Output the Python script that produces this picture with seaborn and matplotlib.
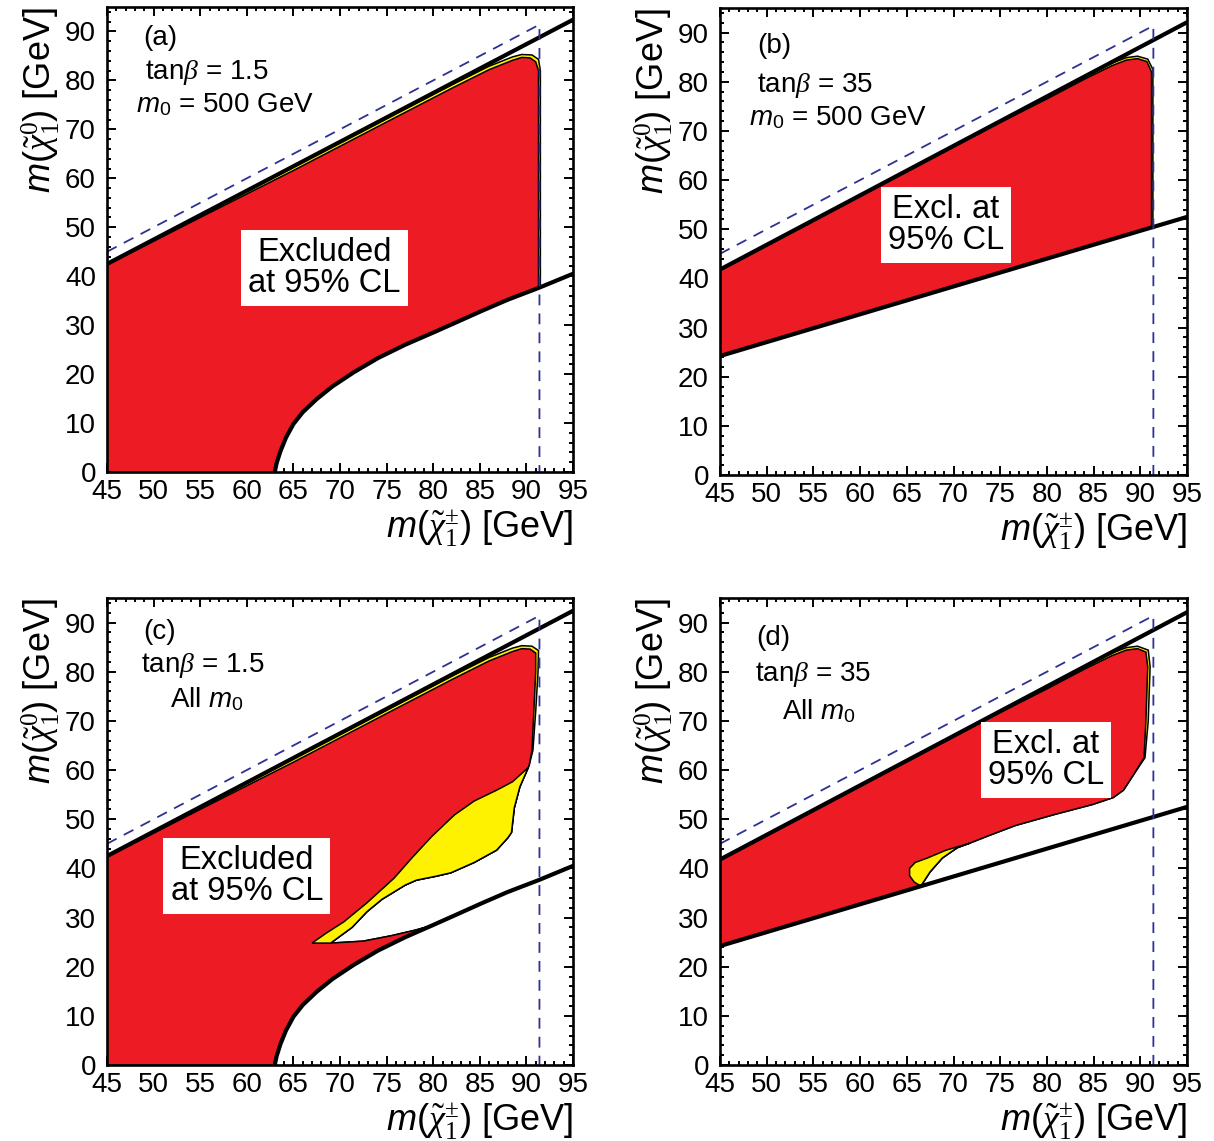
import matplotlib
matplotlib.use("Agg")
import matplotlib.pyplot as plt
import seaborn as sns
import numpy as np
import pandas as pd
from matplotlib.ticker import MultipleLocator

# ---------------- data ----------------
line_x = [45, 95]
upper_tb15 = [42.5, 92.4]      # kinematic limit, tan(beta)=1.5
upper_tb35 = [41.8, 92.1]      # kinematic limit, tan(beta)=35
lower_tb35 = [24.2, 52.5]      # lower boundary, tan(beta)=35

lower_tb15_x = [63.0, 63.2, 63.6, 64.2, 65.0, 66.0, 67.5, 69.2, 71.5, 74.1, 77.0, 79.9, 82.5, 85.2, 88.0, 91.3, 95.0]
lower_tb15_y = [0.0, 1.8, 4.2, 7.0, 9.8, 12.2, 14.9, 17.5, 20.4, 23.3, 26.0, 28.4, 30.6, 32.9, 35.2, 37.6, 40.5]

dashed_x = [45, 91.4, 91.4]
dashed_y = [45, 91.4, 0]

# panel (a): tan(beta)=1.5, m0=500
a_red_top_x = [45, 55, 65, 75, 82, 86, 88.5, 89.5, 90.4, 91.0, 91.3, 91.3]
a_red_top_y = [42.3, 52.0, 61.6, 71.5, 78.4, 82.2, 84.1, 84.7, 84.6, 83.8, 82.0, 37.6]
a_yel_top_x = [45, 55, 65, 75, 82, 86, 88.5, 89.5, 90.6, 91.3, 91.5, 91.5]
a_yel_top_y = [42.5, 52.4, 62.3, 72.2, 79.1, 82.9, 84.8, 85.3, 85.2, 84.3, 82.0, 37.7]

# panel (b): tan(beta)=35, m0=500
b_red_top_x = [45, 55, 65, 75, 80, 84, 87, 88.5, 89.7, 90.7, 91.2, 91.2]
b_red_top_y = [41.6, 51.6, 61.7, 71.7, 76.5, 80.5, 83.3, 84.4, 84.7, 84.1, 82.0, 50.3]
b_yel_top_x = [45, 55, 65, 75, 80, 84, 87, 88.5, 89.7, 90.8, 91.35, 91.35]
b_yel_top_y = [41.6, 51.6, 61.7, 71.8, 76.9, 80.9, 83.8, 84.9, 85.2, 84.6, 82.5, 50.4]

# panel (c): tan(beta)=1.5, all m0
c_red_top_x = [45, 55, 65, 75, 82, 86, 88.5, 89.5, 90.4, 91.0, 91.0, 90.8, 90.6, 90.3]
c_red_top_y = [42.3, 52.0, 61.6, 71.5, 78.4, 82.2, 84.1, 84.7, 84.6, 83.8, 80.0, 72.0, 64.0, 61.0]
c_yel_top_x = [45, 55, 65, 75, 82, 86, 88.5, 89.5, 90.6, 91.3, 91.25, 91.0, 90.7, 90.3]
c_yel_top_y = [42.5, 52.4, 62.3, 72.2, 79.1, 82.9, 84.8, 85.3, 85.2, 84.3, 80.0, 72.0, 64.0, 61.0]
c_isl_up_x = [67.0, 68.5, 70.4, 72.9, 75.8, 77.8, 79.9, 82.3, 84.4, 86.8, 88.5, 90.2]
c_isl_up_y = [24.8, 26.8, 29.1, 33.0, 38.0, 42.3, 46.6, 50.9, 53.7, 55.9, 57.6, 60.5]
c_isl_lo_x = [90.2, 89.3, 88.7, 88.4, 88.0, 86.8, 84.4, 81.9, 80.3, 78.2, 77.0, 74.5, 72.9, 71.3, 70.0, 69.0]
c_isl_lo_y = [60.5, 56.6, 52.3, 47.3, 46.2, 43.7, 41.2, 39.1, 38.4, 37.6, 36.6, 33.7, 31.2, 28.0, 26.2, 24.8]
c_hole_x = [69.0, 72.5, 75.5, 78.0, 79.9]
c_hole_y = [24.8, 25.2, 26.3, 27.4, 28.4]

# panel (d): tan(beta)=35, all m0
d_red_top_x = [45, 55, 65, 75, 80, 84, 87, 88.5, 89.7, 90.6, 90.8, 90.6, 90.4]
d_red_top_y = [41.6, 51.6, 61.7, 71.7, 76.5, 80.5, 83.3, 84.4, 84.7, 84.0, 81.0, 70.0, 62.5]
d_yel_top_x = [45, 55, 65, 72, 80, 84, 87, 88.5, 89.7, 90.85, 91.05, 90.85, 90.5]
d_yel_top_y = [41.6, 51.6, 61.7, 68.8, 76.9, 80.9, 83.8, 84.9, 85.2, 84.4, 81.0, 70.0, 62.5]
d_edge_x = [89.4, 88.2, 87.1, 84.9, 80.7, 76.6, 73.7, 71.7]
d_edge_y = [59.4, 55.9, 54.4, 53.0, 50.9, 48.7, 46.6, 45.1]
d_isl_up_x = [65.3, 65.9, 67.2, 69.2, 71.7]
d_isl_up_y = [40.0, 41.2, 42.1, 43.7, 45.1]
d_isl_lo_x = [71.7, 70.4, 68.8, 67.5, 66.5]
d_isl_lo_y = [45.1, 44.2, 42.1, 39.3, 36.4]
d_isl_tip_x = [66.5, 65.8, 65.3]
d_isl_tip_y = [36.4, 37.2, 38.5]

panel_tags = ["(a)", "(b)", "(c)", "(d)"]
tanb_text = [r"tan$\beta$ = 1.5", r"tan$\beta$ = 35", r"tan$\beta$ = 1.5", r"tan$\beta$ = 35"]
m0_text = [r"$\mathsf{m}_{\mathtt{0}}$ = 500 GeV", r"$\mathsf{m}_{\mathtt{0}}$ = 500 GeV",
           r"All $\mathsf{m}_{\mathtt{0}}$", r"All $\mathsf{m}_{\mathtt{0}}$"]
box_text = ["Excluded\nat 95% CL", "Excl. at\n95% CL", "Excluded\nat 95% CL", "Excl. at\n95% CL"]

xlabel = r"$\mathsf{m}\mathtt{(}\tilde{\chi}^{\pm}_{1}\mathtt{)}$ [GeV]"
ylabel = r"$\mathsf{m}\mathtt{(}\tilde{\chi}^{0}_{1}\mathtt{)}$ [GeV]"

# ---------------- style ----------------
sns.set_theme(style="ticks")
plt.rcParams["font.family"] = ["Liberation Sans", "DejaVu Sans"]
plt.rcParams["mathtext.fontset"] = "custom"
plt.rcParams["mathtext.rm"] = "Liberation Serif"
plt.rcParams["mathtext.it"] = "Liberation Serif:italic"
plt.rcParams["mathtext.bf"] = "Liberation Serif:bold"
plt.rcParams["mathtext.sf"] = "Liberation Sans:italic"
plt.rcParams["mathtext.tt"] = "Liberation Sans"
for k in ["text.color", "axes.labelcolor", "xtick.color", "ytick.color", "axes.edgecolor"]:
    plt.rcParams[k] = "black"

RED = "#ED1C24"
YEL = "#FFF200"
BLUE = "#2E3192"

fig = plt.figure(figsize=(12.14, 11.41), dpi=100)
positions = [
    [107 / 1214, 1 - 472 / 1141, 466 / 1214, 465 / 1141],
    [720 / 1214, 1 - 475 / 1141, 467 / 1214, 467 / 1141],
    [107 / 1214, 1 - 1065 / 1141, 466 / 1214, 467 / 1141],
    [720 / 1214, 1 - 1065 / 1141, 467 / 1214, 467 / 1141],
]
axes = [fig.add_axes(p) for p in positions]


def lower15_upto(xmax):
    xs = [x for x in lower_tb15_x if x <= xmax + 1e-9]
    ys = [y for x, y in zip(lower_tb15_x, lower_tb15_y) if x <= xmax + 1e-9]
    return xs, ys


def draw_line(ax, x, y, lw=3.0, color="black", ls="-", z=4):
    df = pd.DataFrame({"x": x, "y": y})
    sns.lineplot(data=df, x="x", y="y", ax=ax, sort=False, estimator=None,
                 color=color, lw=lw, ls=ls, zorder=z, legend=False)


def fill(ax, x, y, color, z):
    ax.fill(x, y, facecolor=color, edgecolor="black", lw=1.1, zorder=z)


# ---- lower paths ----
lx, ly = lower15_upto(91.3)
a_lower_x = lx[::-1] + [45]
a_lower_y = ly[::-1] + [0]

b_lower_x = [45]
b_lower_y = [lower_tb35[0]]

lx, ly = lower15_upto(79.9)
c_lower_x = c_isl_lo_x + c_hole_x[1:] + lx[::-1][1:] + [45]
c_lower_y = c_isl_lo_y + c_hole_y[1:] + ly[::-1][1:] + [0]

d_lower_x = d_edge_x + d_isl_lo_x[1:] + [45]
d_lower_y = d_edge_y + d_isl_lo_y[1:] + [lower_tb35[0]]

panels = [
    dict(red=(a_red_top_x, a_red_top_y), yel=(a_yel_top_x, a_yel_top_y), low=(a_lower_x, a_lower_y), tb=15),
    dict(red=(b_red_top_x, b_red_top_y), yel=(b_yel_top_x, b_yel_top_y), low=(b_lower_x, b_lower_y), tb=35),
    dict(red=(c_red_top_x, c_red_top_y), yel=(c_yel_top_x, c_yel_top_y), low=(c_lower_x, c_lower_y), tb=15),
    dict(red=(d_red_top_x, d_red_top_y), yel=(d_yel_top_x, d_yel_top_y), low=(d_lower_x, d_lower_y), tb=35),
]

text_pos = [
    [(0.077, 0.933), (0.082, 0.860), (0.062, 0.789)],
    [(0.079, 0.919), (0.079, 0.835), (0.062, 0.766)],
    [(0.077, 0.927), (0.073, 0.856), (0.135, 0.783)],
    [(0.077, 0.914), (0.075, 0.837), (0.133, 0.758)],
]
box_pos = [(0.466, 0.439), (0.484, 0.535), (0.300, 0.405), (0.698, 0.653)]

for i, (ax, p) in enumerate(zip(axes, panels)):
    ax.set_xlim(45, 95)
    ax.set_ylim(0, 95)

    # yellow outer region, then red on top
    for key, col, z in [("yel", YEL, 1), ("red", RED, 2)]:
        tx, ty = p[key]
        px = list(tx) + list(p["low"][0])
        py = list(ty) + list(p["low"][1])
        fill(ax, px, py, col, z)

    # yellow islands
    if i == 2:
        fill(ax, c_isl_up_x + c_isl_lo_x[1:], c_isl_up_y + c_isl_lo_y[1:], YEL, 3)
    if i == 3:
        fill(ax, d_isl_up_x + d_isl_lo_x[1:] + d_isl_tip_x[1:],
             d_isl_up_y + d_isl_lo_y[1:] + d_isl_tip_y[1:], YEL, 3)

    # boundary lines
    if p["tb"] == 15:
        draw_line(ax, line_x, upper_tb15)
        draw_line(ax, lower_tb15_x, lower_tb15_y)
    else:
        draw_line(ax, line_x, upper_tb35)
        draw_line(ax, line_x, lower_tb35)

    # dashed kinematic limit
    ax.plot(dashed_x, dashed_y, color=BLUE, lw=1.3, ls=(0, (6, 4.5)), zorder=5)

    # texts
    (t1, t2, t3) = text_pos[i]
    ax.text(*t1, panel_tags[i], transform=ax.transAxes, fontsize=20, va="center", ha="left", zorder=6)
    ax.text(*t2, tanb_text[i], transform=ax.transAxes, fontsize=20, va="center", ha="left", zorder=6)
    ax.text(*t3, m0_text[i], transform=ax.transAxes, fontsize=20, va="center", ha="left", zorder=6)
    ax.text(*box_pos[i], box_text[i], transform=ax.transAxes, fontsize=23.5, va="center", ha="center",
            linespacing=1.0, zorder=7,
            bbox=dict(boxstyle="square,pad=0.22", facecolor="white", edgecolor="none"))

    # axes styling
    ax.xaxis.set_major_locator(MultipleLocator(5))
    ax.xaxis.set_minor_locator(MultipleLocator(1))
    ax.yaxis.set_major_locator(MultipleLocator(10))
    ax.yaxis.set_minor_locator(MultipleLocator(2))
    ax.tick_params(which="both", direction="in", top=True, right=True, width=1.4, colors="black")
    ax.tick_params(which="major", length=6.5, labelsize=20)
    ax.tick_params(which="minor", length=3.2)
    ax.tick_params(axis="x", which="major", pad=5)
    ax.tick_params(axis="y", which="major", pad=8)
    for s in ax.spines.values():
        s.set_linewidth(1.9)
        s.set_color("black")
        s.set_zorder(8)
    ax.set_xlabel(xlabel, fontsize=26, loc="right", labelpad=3)
    ax.set_ylabel(ylabel, fontsize=26, loc="top", labelpad=2)
    ax.set_facecolor("white")

fig.savefig("out.png", dpi=100)
